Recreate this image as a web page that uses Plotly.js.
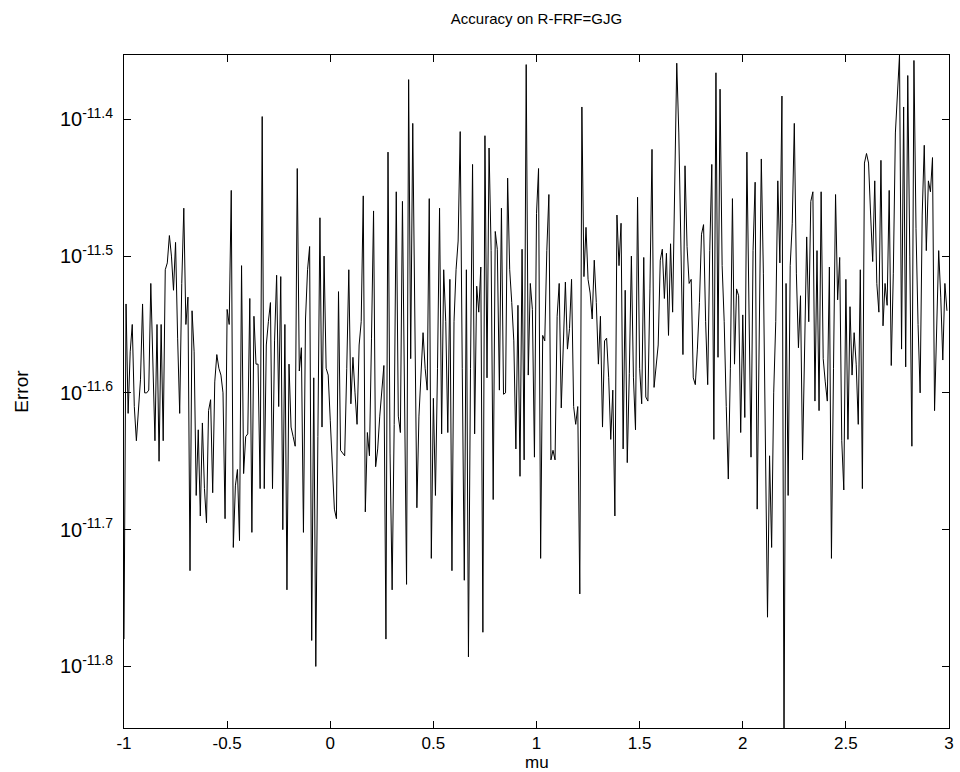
<!DOCTYPE html>
<html>
<head>
<meta charset="utf-8">
<script src="https://cdn.plot.ly/plotly-3.0.1.min.js"></script>
<style>html,body{margin:0;padding:0;background:#fff}#chart{width:960px;height:772px}</style>
</head>
<body>
<div id="chart"></div>
<script>
// mu runs from -1 to 3 in steps of 0.01
const muStart = -1;
const muStep = 0.01;
// log10 of the error from left to right
const log10Error = [
  -11.78, -11.535, -11.615, -11.57, -11.55, -11.61, -11.635, -11.61, -11.59, -11.535, -11.6,
  -11.6, -11.598, -11.52, -11.57, -11.635, -11.55, -11.65, -11.55, -11.635, -11.51,
  -11.505, -11.485, -11.5, -11.525, -11.49, -11.56, -11.615, -11.52, -11.465, -11.55, -11.53,
  -11.73, -11.54, -11.57,
  -11.675, -11.627, -11.69, -11.622, -11.67, -11.695, -11.613, -11.605, -11.673, -11.592,
  -11.572, -11.582, -11.587, -11.6, -11.692, -11.539, -11.55, -11.452, -11.713, -11.668, -11.656,
  -11.708, -11.507, -11.659, -11.632, -11.63, -11.531, -11.702, -11.544, -11.579, -11.579,
  -11.67, -11.398, -11.67, -11.565, -11.548, -11.534, -11.67, -11.562, -11.514, -11.61,
  -11.515, -11.7, -11.55, -11.744, -11.579, -11.625, -11.632, -11.639, -11.436, -11.584,
  -11.567, -11.702, -11.546, -11.51, -11.493, -11.781, -11.589, -11.8, -11.632, -11.472,
  -11.625, -11.5, -11.582, -11.587, -11.62, -11.651, -11.685, -11.692, -11.526, -11.642, -11.644,
  -11.646, -11.582, -11.51, -11.608, -11.574, -11.6, -11.623, -11.565, -11.548, -11.456,
  -11.687,
  -11.629, -11.646, -11.56, -11.467, -11.654, -11.641, -11.617, -11.6, -11.58, -11.78,
  -11.424, -11.644, -11.744, -11.623, -11.453, -11.617, -11.629, -11.46, -11.617, -11.74,
  -11.371, -11.575, -11.403, -11.548, -11.684, -11.617, -11.582, -11.556, -11.582, -11.598,
  -11.458, -11.721, -11.604, -11.675, -11.582, -11.465, -11.63, -11.51, -11.548, -11.629,
  -11.517,
  -11.73, -11.548, -11.51, -11.489, -11.409, -11.582, -11.737, -11.51, -11.793, -11.582,
  -11.433, -11.63, -11.522, -11.541, -11.508, -11.775, -11.412, -11.589, -11.421, -11.496,
  -11.678, -11.482, -11.495, -11.598, -11.465, -11.601, -11.6, -11.443, -11.51, -11.534,
  -11.562, -11.641, -11.536, -11.661, -11.495, -11.649, -11.36, -11.587, -11.52, -11.539,
  -11.647, -11.469, -11.436, -11.721, -11.558, -11.562, -11.496, -11.455, -11.649, -11.642,
  -11.649, -11.544, -11.52, -11.611, -11.565, -11.519, -11.568, -11.553, -11.517, -11.61,
  -11.623, -11.61, -11.747, -11.391, -11.515, -11.479, -11.517, -11.527, -11.546, -11.503,
  -11.534, -11.579, -11.544, -11.625, -11.562, -11.56, -11.589, -11.634, -11.598, -11.69,
  -11.47,
  -11.507, -11.476, -11.641, -11.525, -11.651, -11.586, -11.5, -11.589, -11.627, -11.457,
  -11.582, -11.608, -11.501, -11.603, -11.606, -11.524, -11.422, -11.596, -11.582, -11.565,
  -11.503, -11.495, -11.531, -11.498, -11.558, -11.491, -11.541, -11.462, -11.359, -11.41,
  -11.479, -11.572, -11.434, -11.493, -11.52, -11.517, -11.589, -11.594, -11.568, -11.534,
  -11.484, -11.477,
  -11.548, -11.594, -11.496, -11.433, -11.634, -11.366, -11.574, -11.378, -11.507, -11.548,
  -11.61, -11.663, -11.582, -11.458, -11.579, -11.524, -11.529, -11.629, -11.543, -11.618,
  -11.424, -11.558, -11.647, -11.496, -11.446, -11.685, -11.562, -11.429, -11.513, -11.634,
  -11.764, -11.646, -11.713, -11.6, -11.548, -11.445, -11.505, -11.383, -11.86, -11.52,
  -11.675,
  -11.507, -11.476, -11.403, -11.513, -11.567, -11.529, -11.649, -11.565,
  -11.486, -11.548, -11.46, -11.453, -11.606, -11.496, -11.613, -11.453, -11.575, -11.592,
  -11.606, -11.508, -11.721, -11.582, -11.455, -11.532, -11.501, -11.635, -11.671, -11.517,
  -11.634, -11.537, -11.587, -11.556, -11.579, -11.623, -11.51, -11.67,
  -11.432,
  -11.425, -11.432, -11.47, -11.504, -11.445, -11.52, -11.541, -11.43, -11.551,
  -11.52, -11.536, -11.452, -11.58, -11.513, -11.41, -11.376, -11.353, -11.568,
  -11.391, -11.581, -11.368, -11.5, -11.639, -11.357, -11.48, -11.55, -11.6,
  -11.47, -11.419, -11.496, -11.445, -11.453, -11.428, -11.613, -11.55, -11.496, -11.53,
  -11.576, -11.52, -11.54
];
const yTickExps = [-11.8, -11.7, -11.6, -11.5, -11.4];
const yTickText = ['10<sup>-11.8</sup>', '10<sup>-11.7</sup>', '10<sup>-11.6</sup>', '10<sup>-11.5</sup>', '10<sup>-11.4</sup>'];
const xTicks = [-1, -0.5, 0, 0.5, 1, 1.5, 2, 2.5, 3];
const xTickText = ['-1', '-0.5', '0', '0.5', '1', '1.5', '2', '2.5', '3'];

const errorVals = log10Error.map(v => Math.pow(10, v));
const trace = {
  type: 'scatter', mode: 'lines',
  x0: muStart, dx: muStep,
  y: errorVals,
  line: {color: '#000000', width: 1},
  hoverinfo: 'x+y'
};
const fam = 'Liberation Sans, Arial, Helvetica, sans-serif';
const layout = {
  width: 960, height: 772,
  margin: {l: 124, r: 11, t: 55, b: 44},
  paper_bgcolor: '#fff', plot_bgcolor: '#fff',
  showlegend: false,
  font: {family: fam, color: '#000'},
  title: {text: 'Accuracy on R-FRF=GJG', x: 0.5, xref: 'paper', xanchor: 'center',
          y: 1 - 19 / 772, yanchor: 'middle', font: {size: 15, family: fam, color: '#000'}},
  xaxis: {
    range: [-1, 3], tickvals: xTicks, ticktext: xTickText,
    ticks: 'inside', ticklen: 7, tickcolor: '#000', tickwidth: 1,
    showline: true, linecolor: '#000', linewidth: 1, mirror: 'ticks',
    showgrid: false, zeroline: false,
    tickfont: {size: 17, family: fam, color: '#000'}
  },
  yaxis: {
    type: 'log', range: [-11.845, -11.353],
    tickvals: yTickExps.map(e => Math.pow(10, e)), ticktext: yTickText,
    ticks: 'inside', ticklen: 7, tickcolor: '#000', tickwidth: 1,
    showline: true, linecolor: '#000', linewidth: 1, mirror: 'ticks',
    showgrid: false, zeroline: false, ticklabelstandoff: 6,
    tickfont: {size: 20, family: fam, color: '#000'},
    title: {text: 'Error', font: {size: 19, family: fam, color: '#000'}, standoff: 26}
  },
  annotations: [{
    text: 'mu', xref: 'paper', yref: 'paper', x: 0.5, y: -34 / 673,
    xanchor: 'center', yanchor: 'middle', showarrow: false,
    font: {size: 17, family: fam, color: '#000'}
  }]
};
Plotly.newPlot('chart', [trace], layout, {displayModeBar: false, staticPlot: true});
</script>
</body>
</html>
